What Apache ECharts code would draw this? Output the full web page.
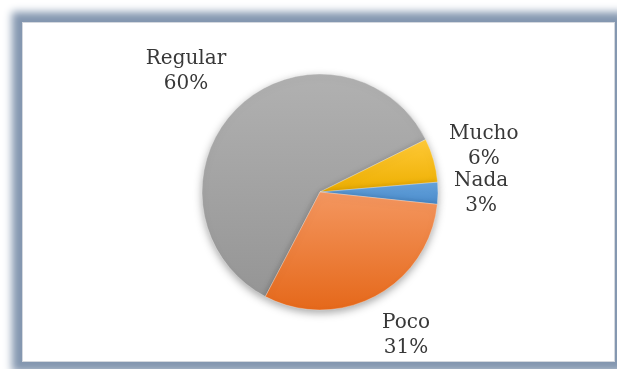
<!DOCTYPE html>
<html>
<head>
<meta charset="utf-8">
<script src="https://cdn.jsdelivr.net/npm/echarts@6/dist/echarts.min.js"></script>
<style>
html,body{margin:0;padding:0;background:#fff;}
#frame{position:absolute;left:22px;top:22px;width:593px;height:340px;background:#fff;
  border:1px solid #d4d8de;box-sizing:border-box;
  box-shadow:0 0 8px 10px #8497b0;}
#chart{position:absolute;left:0;top:0;width:617px;height:369px;}
</style>
</head>
<body>
<div id="frame"></div>
<div id="chart"></div>
<script>
var categories = ['Regular', 'Mucho', 'Nada', 'Poco'];
var values = [60, 6, 3, 31];
var topColors = ['#B1B1B1', '#FFCA38', '#66A4DD', '#F49760'];
var bottomColors = ['#959595', '#EDAE00', '#4A8BCB', '#E5681A'];

var chart = echarts.init(document.getElementById('chart'), null, {renderer: 'canvas'});

function clamp(v) { return Math.max(-1, Math.min(1, v)); }

var data = categories.map(function (c, i) {
  return {
    name: c,
    value: values[i],
    itemStyle: {
      color: new echarts.graphic.LinearGradient(0, 0, 0, 1, [
        {offset: 0, color: topColors[i]},
        {offset: 1, color: bottomColors[i]}
      ])
    }
  };
});

chart.setOption({
  animation: false,
  series: [{
    type: 'pie',
    center: [320, 192],
    radius: 118,
    startAngle: 242.4,
    clockwise: true,
    avoidLabelOverlap: false,
    data: data,
    itemStyle: {
      borderColor: 'rgba(255,255,255,0.5)',
      borderWidth: 0.6,
      shadowBlur: 8,
      shadowOffsetY: 3,
      shadowColor: 'rgba(0,0,0,0.35)'
    },
    label: {
      show: true,
      position: 'outside',
      formatter: '{b}\n{d}%',
      fontFamily: 'DejaVu Serif',
      fontSize: 20,
      lineHeight: 25,
      color: '#383838',
      distanceToLabelLine: 0
    },
    labelLine: {
      show: true,
      length: 16,
      length2: 0,
      lineStyle: {opacity: 0, width: 0}
    },
    labelLayout: function (p) {
      var pts = p.labelLinePoints;
      if (!pts) return {};
      var dx = pts[1][0] - pts[0][0], dy = pts[1][1] - pts[0][1];
      var len = Math.sqrt(dx * dx + dy * dy) || 1;
      dx /= len; dy /= len;
      var w = p.labelRect.width, h = p.labelRect.height;
      return {
        x: pts[1][0] + w / 2 * clamp(2 * dx),
        y: pts[1][1] + h / 2 * clamp(1.5 * dy),
        align: 'center',
        verticalAlign: 'middle'
      };
    }
  }]
});
</script>
</body>
</html>
